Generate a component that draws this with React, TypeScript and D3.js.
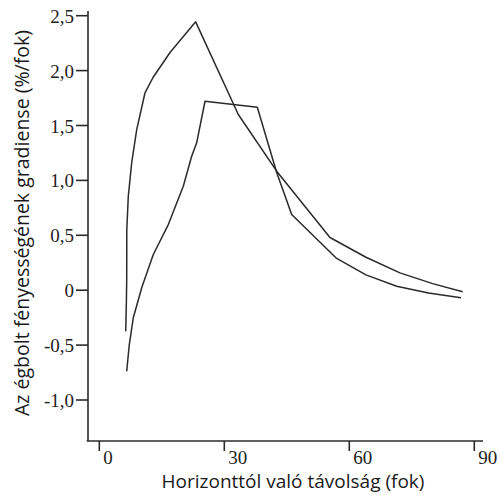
import React from "react";
import * as d3 from "d3";

const xTicks = [0, 30, 60, 90];
const yTicks = [2.5, 2.0, 1.5, 1.0, 0.5, 0, -0.5, -1.0];
const yTickLabels = ["2,5", "2,0", "1,5", "1,0", "0,5", "0", "-0,5", "-1,0"];

// Curve A (peak ~2.44 at ~23°)
const curveAX = [6.34, 6.5, 6.58, 6.6, 6.96, 7.78, 8.98, 10.97, 12.89, 16.97, 23.13, 33.36, 42.57, 55.36, 64.0, 72.16, 80.0, 87.21];
const curveAY = [-0.373, -0.1, 0.097, 0.553, 0.856, 1.163, 1.463, 1.798, 1.937, 2.165, 2.444, 1.6, 1.084, 0.48, 0.3, 0.158, 0.06, -0.015];

// Curve B (plateau ~1.7 between 25° and 38°)
const curveBX = [6.58, 7.2, 8.16, 10.18, 12.96, 16.56, 20.16, 22.17, 23.37, 25.37, 37.92, 42.57, 46.17, 56.97, 64.0, 71.37, 79.0, 86.8];
const curveBY = [-0.738, -0.495, -0.251, 0.022, 0.325, 0.598, 0.947, 1.22, 1.342, 1.721, 1.667, 1.072, 0.689, 0.289, 0.14, 0.036, -0.025, -0.069];

export default function App() {
  const W = 500;
  const H = 495;
  const x = d3.scaleLinear().domain([0, 90]).range([99.3, 474.3]);
  const y = d3.scaleLinear().domain([-1, 2.5]).range([400, 15.7]);
  const axisX = 88;
  const axisY = 441;

  const line = d3
    .line<[number, number]>()
    .x((d) => x(d[0]))
    .y((d) => y(d[1]))
    .curve(d3.curveLinear);

  const dataA: [number, number][] = curveAX.map((v, i) => [v, curveAY[i]]);
  const dataB: [number, number][] = curveBX.map((v, i) => [v, curveBY[i]]);

  const ink = "#2a2a2a";
  const serif = "'Liberation Serif', 'Times New Roman', serif";

  return (
    <svg
      width={W}
      height={H}
      style={{ position: "absolute", left: 0, top: 0, background: "#fff" }}
    >
      {/* axes */}
      <line x1={axisX} y1={11} x2={axisX} y2={axisY} stroke={ink} strokeWidth={1.6} />
      <line x1={86.7} y1={axisY} x2={483} y2={axisY} stroke={ink} strokeWidth={1.6} />

      {yTicks.map((t, i) => (
        <g key={"y" + i}>
          <line x1={76} y1={y(t)} x2={axisX} y2={y(t)} stroke={ink} strokeWidth={1.6} />
          <text
            x={74}
            y={y(t) + 7}
            textAnchor="end"
            fontFamily={serif}
            fontSize={19}
            fill="#222"
          >
            {yTickLabels[i]}
          </text>
        </g>
      ))}

      {xTicks.map((t, i) => (
        <g key={"x" + i}>
          <line x1={x(t)} y1={axisY} x2={x(t)} y2={axisY + 10} stroke={ink} strokeWidth={1.6} />
          <text
            x={x(t) + 4}
            y={axisY + 23}
            textAnchor="start"
            fontFamily={serif}
            fontSize={19}
            fill="#222"
          >
            {t}
          </text>
        </g>
      ))}

      {/* curves */}
      <path d={line(dataA) || ""} fill="none" stroke={ink} strokeWidth={1.5} strokeLinejoin="round" />
      <path d={line(dataB) || ""} fill="none" stroke={ink} strokeWidth={1.5} strokeLinejoin="round" />

      {/* titles */}
      <text
        x={293}
        y={488}
        textAnchor="middle"
        fontFamily="'Open Sans', sans-serif"
        fontSize={19}
        fill="#1a1a1a"
      >
        Horizonttól való távolság (fok)
      </text>
      <text
        transform="translate(29,223) rotate(-90)"
        textAnchor="middle"
        fontFamily="'Open Sans', sans-serif"
        fontSize={19.5}
        fill="#1a1a1a"
      >
        Az égbolt fényességének gradiense (%/fok)
      </text>
    </svg>
  );
}
